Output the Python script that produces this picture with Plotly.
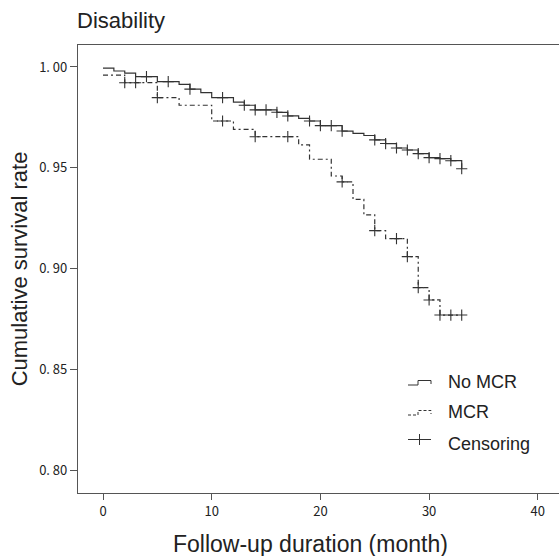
import numpy as np
import plotly.graph_objects as go

# ---- data ----
nomcr_time = [0, 1, 2, 3, 5, 7, 8, 9, 10, 12, 13, 14, 16, 17, 18, 19, 20, 22, 23, 24, 25, 26, 27, 28, 29, 30, 31, 32, 33]
nomcr_surv = [0.9994, 0.998, 0.9969, 0.9952, 0.9927, 0.9914, 0.989, 0.9873, 0.9848, 0.9826, 0.981, 0.9787, 0.9775,
              0.9757, 0.9745, 0.9732, 0.9709, 0.9682, 0.967, 0.966, 0.9638, 0.962, 0.9598, 0.9588, 0.957, 0.955,
              0.9545, 0.9535, 0.9495]
nomcr_censor = [4, 6, 8, 11, 13, 14, 15, 16, 17, 19, 20, 21, 22, 25, 26, 27, 28, 29, 30, 31, 32, 33]

mcr_time = [0, 2, 5, 7, 10, 12, 14, 18, 19, 21, 22, 23, 24, 25, 26, 28, 29, 30, 31, 33]
mcr_surv = [0.996, 0.9922, 0.9848, 0.981, 0.9732, 0.969, 0.9654, 0.9613, 0.9542, 0.9459, 0.943, 0.9343, 0.9266,
            0.9188, 0.9148, 0.9059, 0.8905, 0.8844, 0.8769, 0.8769]
mcr_censor = [2, 3, 5, 11, 14, 17, 22, 25, 27, 28, 29, 30, 31, 32, 33]

x_ticks = [0, 10, 20, 30, 40]
y_ticks = [0.80, 0.85, 0.90, 0.95, 1.00]
y_ticklabels = ["0. 80", "0. 85", "0. 90", "0. 95", "1. 00"]


def at(times, surv, t):
    idx = np.searchsorted(np.array(times), np.array(t), side="right") - 1
    return list(np.array(surv)[idx])


LINE = "#333333"
fig = go.Figure()
fig.add_trace(go.Scatter(x=nomcr_time, y=nomcr_surv, mode="lines", line=dict(shape="hv", color=LINE, width=1.2),
                         showlegend=False, hoverinfo="skip"))
fig.add_trace(go.Scatter(x=mcr_time, y=mcr_surv, mode="lines",
                         line=dict(shape="hv", color=LINE, width=1.2, dash="5px,3px,2px,3px"), showlegend=False,
                         hoverinfo="skip"))
fig.add_trace(go.Scatter(x=nomcr_censor, y=at(nomcr_time, nomcr_surv, nomcr_censor), mode="markers",
                         marker=dict(symbol="cross-thin", size=8, line=dict(color=LINE, width=1.1)), showlegend=False,
                         hoverinfo="skip"))
fig.add_trace(go.Scatter(x=mcr_censor, y=at(mcr_time, mcr_surv, mcr_censor), mode="markers",
                         marker=dict(symbol="cross-thin", size=8, line=dict(color=LINE, width=1.1)), showlegend=False,
                         hoverinfo="skip"))

# plot area in pixels (figure is wider than the window so the right edge is cut off, as in the reference)
L, T, B, W, H = 78, 45, 493, 575, 556


def px(x):
    return (x - L) / (W - L)


def py(y):
    return (B - y) / (B - T)


shapes = []
shapes.append(dict(type="path", xref="paper", yref="paper",
                   path=f"M {px(408)} {py(385)} L {px(418)} {py(385)} L {px(418)} {py(380.5)} L {px(431)} {py(380.5)} L {px(431)} {py(384)}",
                   line=dict(color=LINE, width=1)))
shapes.append(dict(type="path", xref="paper", yref="paper",
                   path=f"M {px(408)} {py(415)} L {px(418)} {py(415)} L {px(418)} {py(410.5)} L {px(431)} {py(410.5)} L {px(431)} {py(414)}",
                   line=dict(color=LINE, width=1, dash="3px,2px")))
shapes.append(dict(type="line", xref="paper", yref="paper", x0=px(408), x1=px(431), y0=py(439.5), y1=py(439.5),
                   line=dict(color=LINE, width=1)))
shapes.append(dict(type="line", xref="paper", yref="paper", x0=px(419.5), x1=px(419.5), y0=py(434), y1=py(445),
                   line=dict(color=LINE, width=1)))

annotations = []
for label, yy in [("No MCR", 382), ("MCR", 412), ("Censoring", 444)]:
    annotations.append(dict(text=label, xref="paper", yref="paper", x=px(446), y=py(yy), xanchor="left",
                            yanchor="middle", showarrow=False,
                            font=dict(family="Liberation Sans, Arial", size=18, color="#222")))
# x-axis title (centred where the reference puts it)
annotations.append(dict(text="Follow-up duration (month)", xref="paper", yref="paper", x=px(310), y=py(544),
                        xanchor="center", yanchor="middle", showarrow=False,
                        font=dict(family="Liberation Sans, Arial", size=23, color="#222")))

fig.update_layout(
    width=W, height=H,
    margin=dict(l=L, r=0, t=T, b=H - B),
    paper_bgcolor="white", plot_bgcolor="white",
    hovermode=False,
    title=dict(text="Disability", x=77 / W, xanchor="left", y=1 - 20 / H, yanchor="middle",
               font=dict(family="Liberation Sans, Arial", size=22, color="#222")),
    shapes=shapes, annotations=annotations,
    xaxis=dict(range=[-2.3, (W - 103) / 10.87], tickvals=x_ticks, ticks="outside", ticklen=6, tickcolor="#555",
               showline=True, linecolor="#555", linewidth=1.2, mirror=True, showgrid=False, zeroline=False,
               tickfont=dict(family="Noto Sans CJK JP", size=13, color="#222")),
    yaxis=dict(range=[0.7886, 1.0109], tickvals=y_ticks, ticktext=y_ticklabels, ticks="outside", ticklen=7,
               tickcolor="#555", showline=True, linecolor="#555", linewidth=1.2, showgrid=False, zeroline=False,
               tickfont=dict(family="Noto Sans CJK JP", size=13, color="#222"),
               title=dict(text="Cumulative survival rate", standoff=5,
                          font=dict(family="Liberation Sans, Arial", size=22, color="#222"))),
)

fig.write_html("out.html", config={"displayModeBar": False},
               post_script="document.body.style.margin='0';document.body.style.overflow='hidden';")
